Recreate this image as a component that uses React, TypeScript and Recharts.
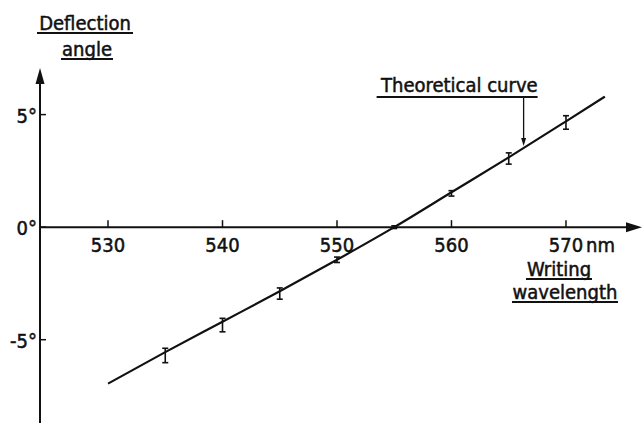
import React from 'react'
import { ComposedChart, XAxis, YAxis, Line, Scatter, ErrorBar, ReferenceLine, ReferenceDot } from 'recharts'

const xTicks = [530, 540, 550, 560, 570]
const yTicks = [-5, 0, 5]
const yTickLabels = ['-5°', '0°', '5°']
const xUnit = 'nm'

// theoretical curve
const curveX = [530, 535, 540, 545, 550, 555, 560, 565, 570, 573.4]
const curveY = [-6.95, -5.55, -4.2, -2.85, -1.45, 0, 1.55, 3.1, 4.7, 5.8]

// measured points with error bars
const measX = [535, 540, 545, 550, 555, 560, 565, 570]
const measY = [-5.7, -4.35, -2.95, -1.45, 0, 1.5, 3.05, 4.65]
const measErr = [0.32, 0.3, 0.25, 0.12, 0.06, 0.12, 0.25, 0.3]

const xDomain = [524.06, 576.64]
const yDomain = [-8.7, 7.07]

const FONT = "'DejaVu Sans Condensed', 'DejaVu Sans', sans-serif"
const INK = '#111'

const curveData = curveX.map((x, i) => ({ x, y: curveY[i] }))
const measData = measX.map((x, i) => ({ x, y: measY[i], err: measErr[i] }))

const txt = { fontFamily: FONT, fontSize: 20, fill: INK, stroke: INK, strokeWidth: 0.5 }

function XAxisLine(p: any) {
    const y = p.y1
    const x1 = Math.min(p.x1, p.x2)
    const x2 = Math.max(p.x1, p.x2)
    return (
        <g>
            <line x1={x1} y1={y} x2={x2 - 10} y2={y} stroke={INK} strokeWidth={2} />
            <polygon points={`${x2},${y} ${x2 - 16},${y - 5} ${x2 - 16},${y + 5}`} fill={INK} />
        </g>
    )
}

function YAxisLine(p: any) {
    const x = p.x1
    const top = Math.min(p.y1, p.y2)
    const bottom = Math.max(p.y1, p.y2)
    return (
        <g>
            <line x1={x} y1={top + 10} x2={x} y2={bottom} stroke={INK} strokeWidth={2} />
            <polygon points={`${x},${top} ${x - 4.5},${top + 16} ${x + 4.5},${top + 16}`} fill={INK} />
        </g>
    )
}

function CurveNote(p: any) {
    const x = p.x1
    const top = Math.min(p.y1, p.y2)
    const bottom = Math.max(p.y1, p.y2)
    return (
        <g>
            <text x={x + 14} y={top - 5} textAnchor="end" {...txt}>Theoretical curve</text>
            <line x1={x - 147} y1={top} x2={x + 14} y2={top} stroke={INK} strokeWidth={2} />
            <line x1={x} y1={top} x2={x} y2={bottom - 6} stroke={INK} strokeWidth={1.3} />
            <polygon points={`${x},${bottom} ${x - 2.5},${bottom - 8} ${x + 2.5},${bottom - 8}`} fill={INK} />
        </g>
    )
}

function NoDot() {
    return <g />
}

function Underlined({ x, y, w, children }: any) {
    return (
        <g>
            <text x={x} y={y} textAnchor="middle" {...txt}>{children}</text>
            <line x1={x - w / 2} y1={y + 3} x2={x + w / 2} y2={y + 3} stroke={INK} strokeWidth={2} />
        </g>
    )
}

export default function App() {
    return (
        <div style={{ position: 'absolute', left: 0, top: 0, width: 643, height: 423, background: '#fff' }}>
            <ComposedChart width={643} height={423} margin={{ top: 68, right: 1, bottom: 0, left: 40 }}>
                <XAxis type="number" dataKey="x" domain={xDomain} hide allowDataOverflow />
                <YAxis type="number" dataKey="y" domain={yDomain} hide allowDataOverflow />
                <ReferenceLine y={0} shape={XAxisLine} />
                <ReferenceLine x={xDomain[0]} shape={YAxisLine} />
                {xTicks.map((t, i) => (
                    <ReferenceDot key={'xt' + t} x={t} y={0} r={0} shape={(p: any) => (
                        <g>
                            <line x1={p.cx} y1={p.cy} x2={p.cx} y2={p.cy - 7} stroke={INK} strokeWidth={1.5} />
                            <text x={p.cx} y={p.cy + 25} textAnchor="middle" {...txt}>{t}</text>
                            {i === xTicks.length - 1 && (
                                <text x={p.cx + 20} y={p.cy + 25} textAnchor="start" {...txt}>{xUnit}</text>
                            )}
                        </g>
                    )} />
                ))}
                {yTicks.map((t, i) => (
                    <ReferenceDot key={'yt' + t} x={xDomain[0]} y={t} r={0} shape={(p: any) => (
                        <g>
                            <line x1={p.cx} y1={p.cy} x2={p.cx + 6} y2={p.cy} stroke={INK} strokeWidth={1.5} />
                            <text x={p.cx - 3} y={p.cy + 8} textAnchor="end" {...txt}>{yTickLabels[i]}</text>
                        </g>
                    )} />
                ))}
                <ReferenceLine segment={[{ x: 566.3, y: 5.78 }, { x: 566.3, y: 3.6 }]} shape={CurveNote} />
                <Line data={curveData} dataKey="y" type="monotone" stroke={INK} strokeWidth={2.2} dot={false} isAnimationActive={false} />
                <Scatter data={measData} dataKey="y" shape={NoDot} isAnimationActive={false}>
                    <ErrorBar dataKey="err" direction="y" width={3} stroke={INK} strokeWidth={1.6} />
                </Scatter>
                <Underlined x={85} y={30} w={96}>Deflection</Underlined>
                <Underlined x={87} y={56} w={52}>angle</Underlined>
                <Underlined x={559} y={276} w={66}>Writing</Underlined>
                <Underlined x={565} y={299} w={106}>wavelength</Underlined>
            </ComposedChart>
        </div>
    )
}
